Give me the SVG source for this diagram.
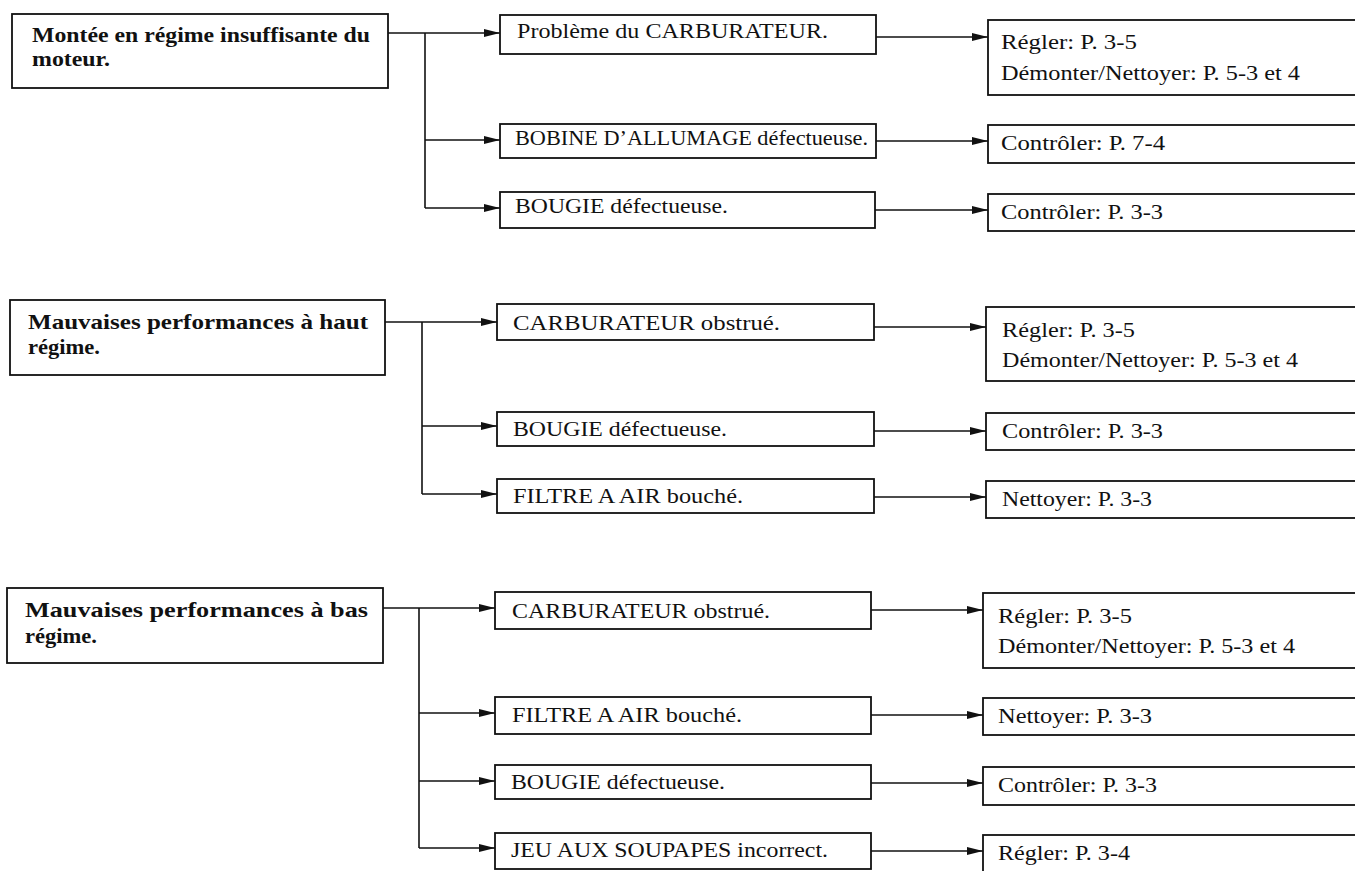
<svg xmlns="http://www.w3.org/2000/svg" width="1355" height="871" viewBox="0 0 1355 871">
<style>
.box{fill:#fff;stroke:#111;stroke-width:1.8}
.ln{fill:none;stroke:#111;stroke-width:1.6}
.pt{font-family:"Liberation Serif","Times New Roman",serif;font-weight:bold;font-size:21px;fill:#111}
.t{font-family:"Liberation Serif","Times New Roman",serif;font-size:21px;fill:#111}
</style>
<defs>
<marker id="ah" markerUnits="userSpaceOnUse" markerWidth="16" markerHeight="8" refX="16" refY="4" orient="auto">
<path d="M0,0 L16,4 L0,8 z" fill="#111"/>
</marker>
</defs>
<rect width="1355" height="871" fill="#fff"/>

<g id="connectors">
<!-- section 1 -->
<path class="ln" d="M388,33 H500" marker-end="url(#ah)"/>
<path class="ln" d="M425,33 V208"/>
<path class="ln" d="M425,140 H500" marker-end="url(#ah)"/>
<path class="ln" d="M425,208 H500" marker-end="url(#ah)"/>
<path class="ln" d="M876,37 H988" marker-end="url(#ah)"/>
<path class="ln" d="M876,141 H988" marker-end="url(#ah)"/>
<path class="ln" d="M875,210 H988" marker-end="url(#ah)"/>
<!-- section 2 -->
<path class="ln" d="M385,322 H497" marker-end="url(#ah)"/>
<path class="ln" d="M422,322 V494"/>
<path class="ln" d="M422,426 H497" marker-end="url(#ah)"/>
<path class="ln" d="M422,494 H497" marker-end="url(#ah)"/>
<path class="ln" d="M874,327 H986" marker-end="url(#ah)"/>
<path class="ln" d="M874,431 H986" marker-end="url(#ah)"/>
<path class="ln" d="M874,497 H986" marker-end="url(#ah)"/>
<!-- section 3 -->
<path class="ln" d="M383,608 H495" marker-end="url(#ah)"/>
<path class="ln" d="M419,608 V848"/>
<path class="ln" d="M419,713 H495" marker-end="url(#ah)"/>
<path class="ln" d="M419,781 H495" marker-end="url(#ah)"/>
<path class="ln" d="M419,848 H495" marker-end="url(#ah)"/>
<path class="ln" d="M871,610 H983" marker-end="url(#ah)"/>
<path class="ln" d="M871,715 H983" marker-end="url(#ah)"/>
<path class="ln" d="M871,783 H983" marker-end="url(#ah)"/>
<path class="ln" d="M871,851 H983" marker-end="url(#ah)"/>
</g>

<!-- Section 1 -->
<g id="p1">
<rect class="box" x="12" y="14" width="376" height="74"/>
<text class="pt" x="32" y="42" textLength="338" lengthAdjust="spacingAndGlyphs">Montée en régime insuffisante du</text>
<text class="pt" x="32" y="66" textLength="78" lengthAdjust="spacingAndGlyphs">moteur.</text>
</g>
<g id="c1a">
<rect class="box" x="500" y="15" width="376" height="39"/>
<text class="t" x="517" y="38" textLength="311" lengthAdjust="spacingAndGlyphs">Problème du CARBURATEUR.</text>
</g>
<g id="c1b">
<rect class="box" x="500" y="124" width="376" height="34"/>
<text class="t" x="515" y="145" textLength="353" lengthAdjust="spacingAndGlyphs">BOBINE D’ALLUMAGE défectueuse.</text>
</g>
<g id="c1c">
<rect class="box" x="500" y="192" width="375" height="36"/>
<text class="t" x="515" y="213" textLength="213" lengthAdjust="spacingAndGlyphs">BOUGIE défectueuse.</text>
</g>
<g id="r1a">
<rect class="box" x="988" y="20" width="380" height="75"/>
<text class="t" x="1001" y="49" textLength="136" lengthAdjust="spacingAndGlyphs">Régler: P. 3-5</text>
<text class="t" x="1001" y="80" textLength="299" lengthAdjust="spacingAndGlyphs">Démonter/Nettoyer: P. 5-3 et 4</text>
</g>
<g id="r1b">
<rect class="box" x="988" y="125" width="380" height="38"/>
<text class="t" x="1001" y="150" textLength="164" lengthAdjust="spacingAndGlyphs">Contrôler: P. 7-4</text>
</g>
<g id="r1c">
<rect class="box" x="988" y="194" width="380" height="37"/>
<text class="t" x="1001" y="219" textLength="162" lengthAdjust="spacingAndGlyphs">Contrôler: P. 3-3</text>
</g>

<!-- Section 2 -->
<g id="p2">
<rect class="box" x="10" y="300" width="375" height="75"/>
<text class="pt" x="28" y="329" textLength="340" lengthAdjust="spacingAndGlyphs">Mauvaises performances à haut</text>
<text class="pt" x="28" y="354" textLength="72" lengthAdjust="spacingAndGlyphs">régime.</text>
</g>
<g id="c2a">
<rect class="box" x="497" y="304" width="377" height="36"/>
<text class="t" x="513" y="330" textLength="267" lengthAdjust="spacingAndGlyphs">CARBURATEUR obstrué.</text>
</g>
<g id="c2b">
<rect class="box" x="497" y="412" width="377" height="34"/>
<text class="t" x="513" y="436" textLength="214" lengthAdjust="spacingAndGlyphs">BOUGIE défectueuse.</text>
</g>
<g id="c2c">
<rect class="box" x="497" y="479" width="377" height="34"/>
<text class="t" x="513" y="503" textLength="230" lengthAdjust="spacingAndGlyphs">FILTRE A AIR bouché.</text>
</g>
<g id="r2a">
<rect class="box" x="986" y="307" width="380" height="74"/>
<text class="t" x="1002" y="337" textLength="133" lengthAdjust="spacingAndGlyphs">Régler: P. 3-5</text>
<text class="t" x="1002" y="367" textLength="296" lengthAdjust="spacingAndGlyphs">Démonter/Nettoyer: P. 5-3 et 4</text>
</g>
<g id="r2b">
<rect class="box" x="986" y="413" width="380" height="37"/>
<text class="t" x="1002" y="438" textLength="161" lengthAdjust="spacingAndGlyphs">Contrôler: P. 3-3</text>
</g>
<g id="r2c">
<rect class="box" x="986" y="481" width="380" height="37"/>
<text class="t" x="1002" y="506" textLength="150" lengthAdjust="spacingAndGlyphs">Nettoyer: P. 3-3</text>
</g>

<!-- Section 3 -->
<g id="p3">
<rect class="box" x="7" y="588" width="376" height="75"/>
<text class="pt" x="25" y="617" textLength="343" lengthAdjust="spacingAndGlyphs">Mauvaises performances à bas</text>
<text class="pt" x="25" y="643" textLength="72" lengthAdjust="spacingAndGlyphs">régime.</text>
</g>
<g id="c3a">
<rect class="box" x="495" y="592" width="376" height="37"/>
<text class="t" x="512" y="618" textLength="258" lengthAdjust="spacingAndGlyphs">CARBURATEUR obstrué.</text>
</g>
<g id="c3b">
<rect class="box" x="495" y="697" width="376" height="37"/>
<text class="t" x="512" y="722" textLength="230" lengthAdjust="spacingAndGlyphs">FILTRE A AIR bouché.</text>
</g>
<g id="c3c">
<rect class="box" x="495" y="765" width="376" height="34"/>
<text class="t" x="511" y="789" textLength="214" lengthAdjust="spacingAndGlyphs">BOUGIE défectueuse.</text>
</g>
<g id="c3d">
<rect class="box" x="495" y="833" width="376" height="36"/>
<text class="t" x="511" y="857" textLength="317" lengthAdjust="spacingAndGlyphs">JEU AUX SOUPAPES incorrect.</text>
</g>
<g id="r3a">
<rect class="box" x="983" y="593" width="385" height="75"/>
<text class="t" x="998" y="623" textLength="134" lengthAdjust="spacingAndGlyphs">Régler: P. 3-5</text>
<text class="t" x="998" y="653" textLength="297" lengthAdjust="spacingAndGlyphs">Démonter/Nettoyer: P. 5-3 et 4</text>
</g>
<g id="r3b">
<rect class="box" x="983" y="698" width="385" height="37"/>
<text class="t" x="998" y="723" textLength="154" lengthAdjust="spacingAndGlyphs">Nettoyer: P. 3-3</text>
</g>
<g id="r3c">
<rect class="box" x="983" y="767" width="385" height="38"/>
<text class="t" x="998" y="792" textLength="159" lengthAdjust="spacingAndGlyphs">Contrôler: P. 3-3</text>
</g>
<g id="r3d">
<rect class="box" x="983" y="835" width="385" height="50"/>
<text class="t" x="998" y="860" textLength="132" lengthAdjust="spacingAndGlyphs">Régler: P. 3-4</text>
</g>
</svg>
